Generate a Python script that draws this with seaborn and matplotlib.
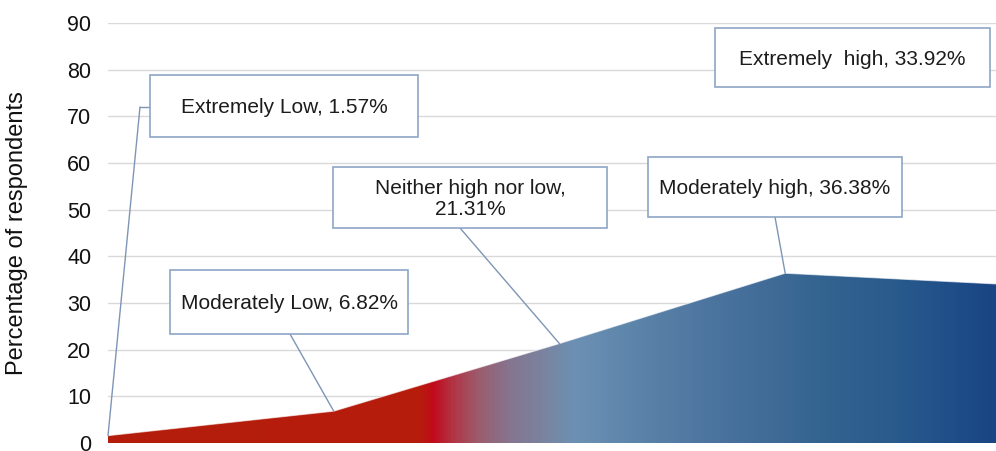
import matplotlib.pyplot as plt
import numpy as np
import pandas as pd
import seaborn as sns
from matplotlib.colors import LinearSegmentedColormap
from matplotlib.patches import Rectangle

# data
categories = ["Extremely Low", "Moderately Low", "Neither high nor low",
              "Moderately high", "Extremely  high"]
percentages = [1.57, 6.82, 21.31, 36.38, 33.92]
y_ticks = list(range(0, 91, 10))

# label boxes in pixel coords of the 996x451 picture: (x0, y0, x1, y1), leader start
boxes = [
    ((150, 75, 418, 137), [(150, 107), (140, 107)]),
    ((170, 270, 408, 334), [(290, 334)]),
    ((333, 167, 607, 228), [(460, 228)]),
    ((648, 157, 902, 217), [(775, 217)]),
    ((715, 28, 990, 87), None),
]

# gradient stops (fraction of axis width, colour)
grad_stops = [
    (0.0, "#b41e0c"), (0.351, "#b61c0c"), (0.365, "#c20a1c"), (0.39, "#b03848"),
    (0.419, "#9a5e70"), (0.453, "#857590"), (0.492, "#7a84a0"), (0.526, "#6c90b4"),
    (0.577, "#6088ac"), (0.667, "#4e76a0"), (0.757, "#3e6a96"), (0.802, "#346490"),
    (0.892, "#285a8c"), (0.959, "#1f4d88"), (1.0, "#1a4584"),
]

W, H = 996, 451
AX_L, AX_R, AX_T, AX_B = 108, 996, 23, 443

sns.set_style("white")
plt.rcParams["font.family"] = ["Liberation Sans", "DejaVu Sans"]

df = pd.DataFrame({"pos": np.arange(len(categories)), "pct": percentages,
                   "cat": categories})

fig = plt.figure(figsize=(W / 100, H / 100), dpi=100)
ax = fig.add_axes([AX_L / W, 1 - AX_B / H, (AX_R - AX_L) / W, (AX_B - AX_T) / H])

x_right = 3.934
ax.set_xlim(0, x_right)
ax.set_ylim(0, 90)

# grid
ax.set_yticks(y_ticks)
ax.yaxis.grid(True, color="#d9d9d9", lw=1.0, zorder=0)
ax.set_xticks([])
for s in ax.spines.values():
    s.set_visible(False)
ax.axhline(0, color="#c9d8ea", lw=1.5, zorder=1)
ax.tick_params(axis="y", length=0, pad=12, labelsize=15.5, labelcolor="#111111")
ax.set_ylabel("Percentage of respondents", fontsize=17, color="#111111",
              labelpad=28)

# gradient area
poly = ax.fill_between(df["pos"], df["pct"], 0, color="none", lw=0, zorder=2)
cmap = LinearSegmentedColormap.from_list("heat", grad_stops)
grad = np.linspace(0, 1, 800).reshape(1, -1)
img = ax.imshow(grad, cmap=cmap, aspect="auto", extent=(0, x_right, 0, 90),
                origin="lower", zorder=2, interpolation="bilinear")
img.set_clip_path(poly.get_paths()[0], transform=ax.transData)
sns.lineplot(data=df, x="pos", y="pct", ax=ax, color="#ffffff", lw=0.8,
             alpha=0.6, zorder=3)
ax.set_xlabel("")


def px2ax(px, py):
    return (px - AX_L) / (AX_R - AX_L), (AX_B - py) / (AX_B - AX_T)


edge = "#8da5c6"
for i, ((x0, y0, x1, y1), lead) in enumerate(boxes):
    fx0, fy1 = px2ax(x0, y0)
    fx1, fy0 = px2ax(x1, y1)
    ax.add_patch(Rectangle((fx0, fy0), fx1 - fx0, fy1 - fy0, transform=ax.transAxes,
                           facecolor="white", edgecolor=edge, lw=1.2, zorder=5,
                           clip_on=False))
    if i == 2:
        label = f"Neither high nor low,\n{percentages[i]:.2f}%"
    else:
        label = f"{categories[i]}, {percentages[i]:.2f}%"
    ax.text((fx0 + fx1) / 2, (fy0 + fy1) / 2 - 0.004, label, transform=ax.transAxes,
            ha="center", va="center", fontsize=15, color="#1c1c1c", zorder=6,
            linespacing=1.12)
    if lead:
        pts = [px2ax(*p) for p in lead]
        if len(pts) > 1:
            ax.plot([p[0] for p in pts], [p[1] for p in pts], color="#7f95b5",
                    lw=1.0, transform=ax.transAxes, zorder=4, clip_on=False)
        ax.annotate("", xy=(df["pos"][i], df["pct"][i]), xycoords="data",
                    xytext=pts[-1], textcoords="axes fraction",
                    arrowprops=dict(arrowstyle="-", color="#7f95b5", lw=1.0,
                                    shrinkA=0, shrinkB=0), zorder=4)

fig.savefig("out.png", dpi=100)
